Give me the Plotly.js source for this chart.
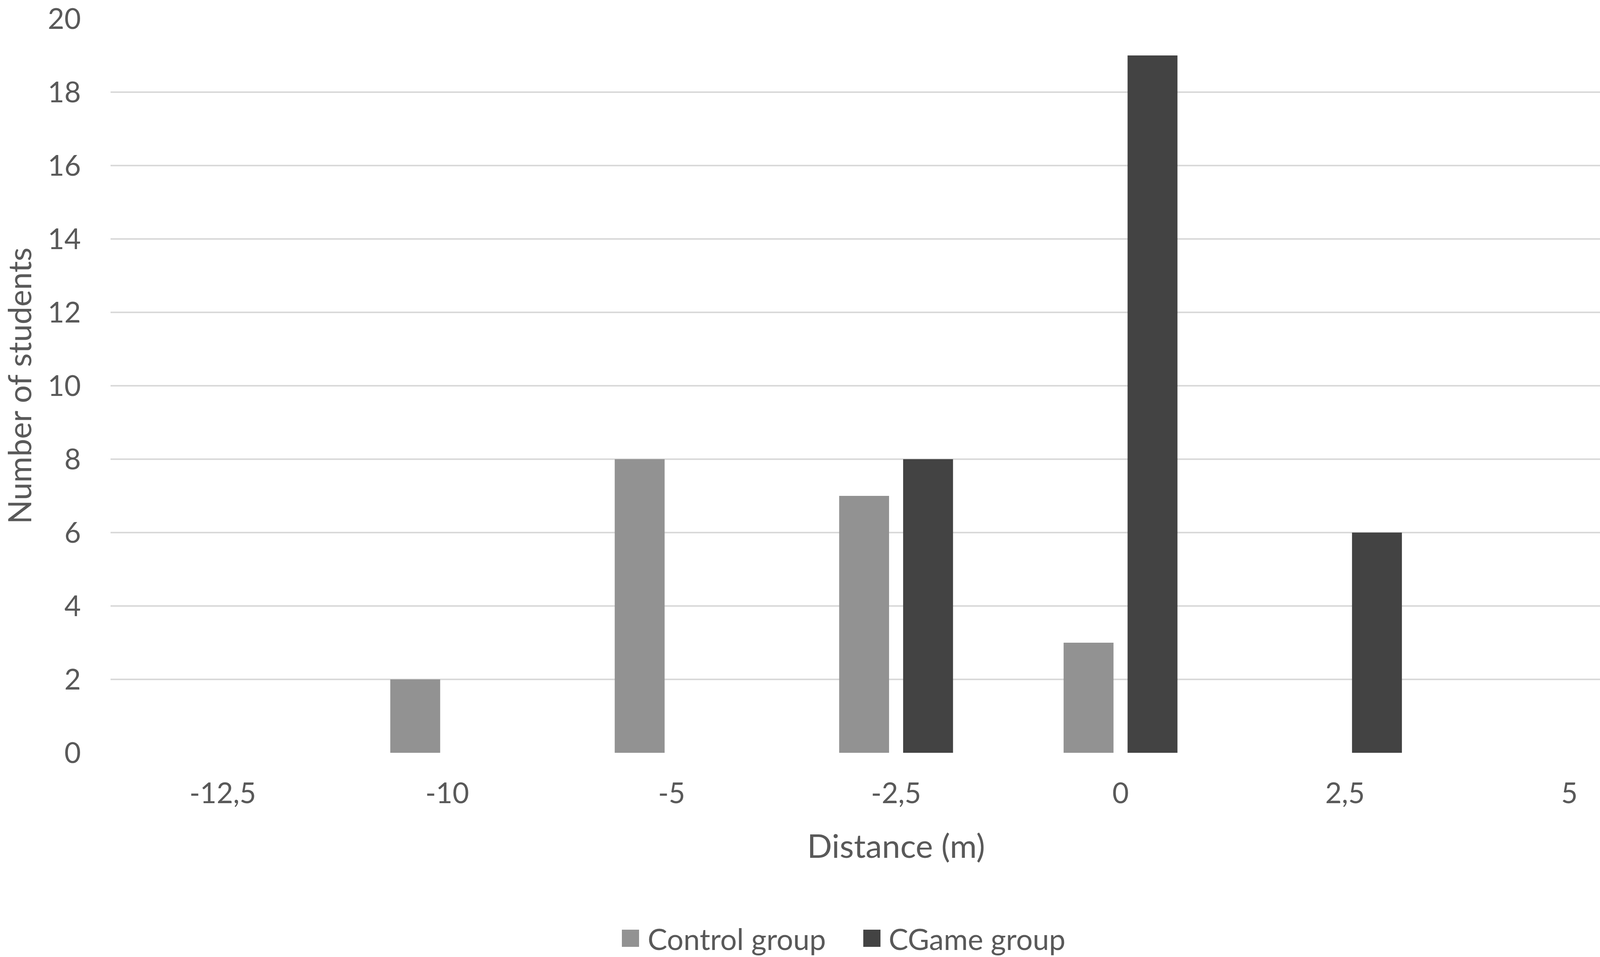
<!DOCTYPE html>
<html>
<head>
<meta charset="utf-8">
<script src="https://cdn.plot.ly/plotly-3.0.1.min.js"></script>
<style>
html, body { margin: 0; padding: 0; background: #ffffff; overflow: hidden; }
#chart { width: 4317px; height: 2451px; }
</style>
</head>
<body>
<div id="chart"></div>
<script>
// ---- data ----
var categories = ["-12,5", "-10", "-5", "-2,5", "0", "2,5", "5"];
var controlGroup = [0, 2, 8, 7, 3, 0, 0];
var cgameGroup = [0, 0, 0, 8, 19, 6, 0];
var seriesNames = ["Control group", "CGame group"];
var yTicks = [0, 2, 4, 6, 8, 10, 12, 14, 16, 18, 20];

// ---- style ----
var W = 4317, H = 2451;
var L = 283, R = 4305, T = 48, B = 1928;
var textColor = "#595959";
var colors = ["#929292", "#434343"];
var FONT = "Lato, 'Open Sans', sans-serif";

function px2x(px) { return (px - L) / (R - L); }
function py2y(py) { return (B - py) / (B - T); }

var traces = [
  { type: "bar", name: seriesNames[0], x: categories, y: controlGroup,
    marker: { color: colors[0] }, hoverinfo: "x+y+name" },
  { type: "bar", name: seriesNames[1], x: categories, y: cgameGroup,
    marker: { color: colors[1] }, hoverinfo: "x+y+name" }
];

// legend drawn as shapes + annotations (large Excel-style keys)
var legendKeys = [
  { x0: 1592, x1: 1636, tx: 1656 },
  { x0: 2210, x1: 2254, tx: 2273 }
];
var shapes = [], annotations = [];
legendKeys.forEach(function (k, i) {
  shapes.push({ type: "rect", xref: "paper", yref: "paper",
    x0: px2x(k.x0), x1: px2x(k.x1), y0: py2y(2425), y1: py2y(2381),
    fillcolor: colors[i], line: { width: 0 } });
  annotations.push({ xref: "paper", yref: "paper", x: px2x(k.tx), y: py2y(2404),
    xanchor: "left", yanchor: "middle", showarrow: false, text: seriesNames[i],
    font: { family: FONT, size: 75, color: textColor } });
});

var layout = {
  width: W, height: H,
  margin: { l: L, r: W - R, t: T, b: H - B, pad: 0 },
  paper_bgcolor: "#ffffff", plot_bgcolor: "#ffffff",
  showlegend: false,
  barmode: "group",
  bargap: 0.43,
  bargroupgap: 0.22,
  font: { family: FONT, color: textColor },
  xaxis: {
    type: "category",
    categoryorder: "array", categoryarray: categories,
    showgrid: false, zeroline: false, showline: false,
    ticks: "", tickfont: { family: FONT, size: 73, color: textColor },
    ticklabelstandoff: 55,
    title: { text: "Distance (m)", font: { family: FONT, size: 84, color: textColor }, standoff: 66 },
    automargin: false
  },
  yaxis: {
    range: [0, 20],
    tickvals: yTicks, ticktext: yTicks.map(String),
    showgrid: true, gridcolor: "#d9d9d9", gridwidth: 4,
    zeroline: false, showline: false, ticks: "",
    tickfont: { family: FONT, size: 73, color: textColor },
    ticklabelstandoff: 75,
    title: { text: "Number of students", font: { family: FONT, size: 81, color: textColor }, standoff: 38 },
    automargin: false
  },
  shapes: shapes,
  annotations: annotations
};

Plotly.newPlot("chart", traces, layout, { staticPlot: true, displayModeBar: false });
</script>
</body>
</html>
